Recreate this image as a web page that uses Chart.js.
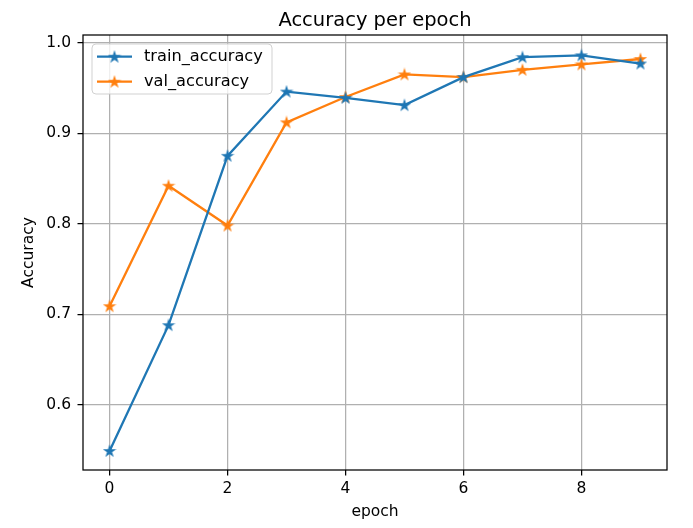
<!DOCTYPE html>
<html>
<head>
<meta charset="utf-8">
<script src="https://cdn.jsdelivr.net/npm/chart.js@4.4.1/dist/chart.umd.min.js"></script>
<style>
  html, body { margin: 0; padding: 0; background: #fff; }
  #wrap { width: 693px; height: 528px; position: relative; }
</style>
</head>
<body>
<div id="wrap"><canvas id="c" width="693" height="528"></canvas></div>
<script>
// ---- data ----
const epochs = [0, 1, 2, 3, 4, 5, 6, 7, 8, 9];
const trainAccuracy = [0.549, 0.688, 0.875, 0.946, 0.939, 0.931, 0.962, 0.984, 0.986, 0.977];
const valAccuracy   = [0.709, 0.842, 0.798, 0.912, 0.940, 0.965, 0.962, 0.970, 0.976, 0.982];
const seriesNames = ['train_accuracy', 'val_accuracy'];
const xTickValues = [0, 2, 4, 6, 8];
const xTickLabels = ['0', '2', '4', '6', '8'];
const yTickValues = [0.6, 0.7, 0.8, 0.9, 1.0];
const yTickLabels = ['0.6', '0.7', '0.8', '0.9', '1.0'];
const titleText = 'Accuracy per epoch';
const xTitle = 'epoch';
const yTitle = 'Accuracy';

// ---- styles ----
const FONT = 'DejaVu Sans';
const COLORS = ['#1f77b4', '#ff7f0e'];
const GRID = '#b0b0b0';

function starPath(ctx, cx, cy, ro, ri) {
  ctx.beginPath();
  for (let i = 0; i < 10; i++) {
    const r = i % 2 === 0 ? ro : ri;
    const a = -Math.PI / 2 + i * Math.PI / 5;
    const px = cx + r * Math.cos(a), py = cy + r * Math.sin(a);
    if (i === 0) ctx.moveTo(px, py); else ctx.lineTo(px, py);
  }
  ctx.closePath();
}
function makeStar(color) {
  const s = 14;
  const cv = document.createElement('canvas');
  cv.width = s; cv.height = s;
  const g = cv.getContext('2d');
  starPath(g, s / 2, s / 2 + 0.4, 4.8, 4.8 * 0.382);
  g.fillStyle = color; g.strokeStyle = color; g.lineWidth = 1.4; g.lineJoin = 'miter';
  g.fill(); g.stroke();
  return cv;
}
const stars = COLORS.map(makeStar);

const toPts = ys => epochs.map((x, i) => ({ x: x, y: ys[i] }));

const frame = {
  id: 'frame',
  afterDatasetsDraw(chart) {
    const { ctx, chartArea: a } = chart;
    ctx.save();
    ctx.strokeStyle = '#000';
    ctx.lineWidth = 1.25;
    ctx.strokeRect(a.left, a.top, a.right - a.left, a.bottom - a.top);
    ctx.restore();
  }
};

const titleDraw = {
  id: 'titleDraw',
  afterDraw(chart) {
    const { ctx, chartArea: a } = chart;
    ctx.save();
    ctx.fillStyle = '#000';
    ctx.font = '19.5px "' + FONT + '"';
    ctx.textAlign = 'center';
    ctx.textBaseline = 'alphabetic';
    ctx.fillText(titleText, (a.left + a.right) / 2, a.top - 9);
    ctx.restore();
  }
};

const legendBox = {
  id: 'legendBox',
  afterDraw(chart) {
    const { ctx, chartArea: a } = chart;
    const x0 = a.left + 9, y0 = a.top + 9, w = 180, h = 50, r = 4;
    ctx.save();
    ctx.beginPath();
    ctx.moveTo(x0 + r, y0);
    ctx.arcTo(x0 + w, y0, x0 + w, y0 + h, r);
    ctx.arcTo(x0 + w, y0 + h, x0, y0 + h, r);
    ctx.arcTo(x0, y0 + h, x0, y0, r);
    ctx.arcTo(x0, y0, x0 + w, y0, r);
    ctx.closePath();
    ctx.fillStyle = 'rgba(255,255,255,0.8)';
    ctx.fill();
    ctx.strokeStyle = 'rgba(204,204,204,0.9)';
    ctx.lineWidth = 1;
    ctx.stroke();
    chart.data.datasets.forEach((ds, i) => {
      const yy = y0 + 12.7 + i * 25;
      const hx0 = x0 + 5, hx1 = x0 + 40;
      ctx.strokeStyle = ds.borderColor;
      ctx.lineWidth = 2.3;
      ctx.beginPath(); ctx.moveTo(hx0, yy); ctx.lineTo(hx1, yy); ctx.stroke();
      const img = ds.pointStyle;
      ctx.drawImage(img, (hx0 + hx1) / 2 - img.width / 2, yy - img.height / 2);
      ctx.fillStyle = '#000';
      ctx.font = '16.2px "' + FONT + '"';
      ctx.textBaseline = 'middle';
      ctx.textAlign = 'left';
      ctx.fillText(ds.label, x0 + 52, yy);
    });
    ctx.restore();
  }
};

new Chart(document.getElementById('c'), {
  type: 'line',
  data: {
    datasets: [
      { label: seriesNames[0], data: toPts(trainAccuracy), borderColor: COLORS[0], backgroundColor: COLORS[0],
        borderWidth: 2.3, pointStyle: stars[0], tension: 0, fill: false },
      { label: seriesNames[1], data: toPts(valAccuracy), borderColor: COLORS[1], backgroundColor: COLORS[1],
        borderWidth: 2.3, pointStyle: stars[1], tension: 0, fill: false }
    ]
  },
  options: {
    responsive: false,
    animation: false,
    devicePixelRatio: 1,
    layout: { padding: { top: 35, right: 26, left: 0, bottom: 0 } },
    plugins: {
      legend: { display: false },
      tooltip: { enabled: false },
      title: { display: false }
    },
    scales: {
      x: {
        type: 'linear', min: -0.45, max: 9.45,
        afterBuildTicks: s => { s.ticks = xTickValues.map(v => ({ value: v })); },
        afterFit: s => { s.height = 58; },
        ticks: {
          color: '#000', font: { family: FONT, size: 15.5 }, padding: 4.5,
          maxRotation: 0, autoSkip: false,
          callback: (v) => { const i = xTickValues.indexOf(v); return i >= 0 ? xTickLabels[i] : ''; }
        },
        grid: { color: GRID, lineWidth: 1.25, tickColor: '#000', tickLength: 5.5, drawTicks: true },
        border: { display: false },
        title: { display: true, text: xTitle, color: '#000', font: { family: FONT, size: 15.5 }, padding: { top: 0, bottom: 6.7 } }
      },
      y: {
        type: 'linear', min: 0.528, max: 1.0085,
        afterBuildTicks: s => { s.ticks = yTickValues.map(v => ({ value: v })); },
        afterFit: s => { s.width = 83; },
        ticks: {
          color: '#000', font: { family: FONT, size: 15.5 }, padding: 6.5, autoSkip: false,
          callback: (v) => { const i = yTickValues.findIndex(t => Math.abs(t - v) < 1e-9); return i >= 0 ? yTickLabels[i] : ''; }
        },
        grid: { color: GRID, lineWidth: 1.25, tickColor: '#000', tickLength: 5.5, drawTicks: true },
        border: { display: false },
        title: { display: true, text: yTitle, color: '#000', font: { family: FONT, size: 15.5 }, padding: { top: 19.3, bottom: 0 } }
      }
    }
  },
  plugins: [frame, titleDraw, legendBox]
});
</script>
</body>
</html>
